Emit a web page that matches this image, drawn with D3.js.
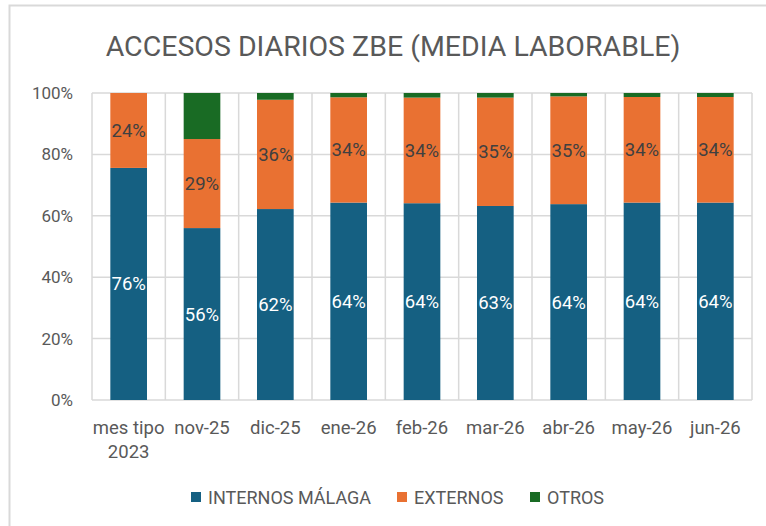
<!DOCTYPE html>
<html>
<head>
<meta charset="utf-8">
<script src="https://cdn.jsdelivr.net/npm/d3@7"></script>
<style>
  body { margin: 0; background: #fff; }
  svg text { font-family: Roboto, "Open Sans", sans-serif; }
</style>
</head>
<body>
<div id="chart"></div>
<script>
// data (shares of daily accesses)
var categories = ["mes tipo 2023", "nov-25", "dic-25", "ene-26", "feb-26", "mar-26", "abr-26", "may-26", "jun-26"];
var internos = [75.6, 56.0, 62.2, 64.3, 64.1, 63.2, 63.8, 64.3, 64.3];
var externos = [24.4, 29.0, 35.6, 34.3, 34.4, 35.3, 35.1, 34.4, 34.4];
var otros    = [0.0, 15.0, 2.2, 1.4, 1.5, 1.5, 1.1, 1.3, 1.3];
var seriesNames = ["INTERNOS MÁLAGA", "EXTERNOS", "OTROS"];
var yTicks = [0, 20, 40, 60, 80, 100];

var width = 766, height = 526;
var margin = {top: 93, right: 14, bottom: 126, left: 92};
var colors = ["#156082", "#E97132", "#196B24"];

var svg = d3.select("#chart").append("svg")
  .attr("width", width)
  .attr("height", height);

// outer chart frame (cut off at right and bottom)
svg.append("path")
  .attr("d", "M9.5," + height + "V5.5H" + width)
  .attr("fill", "none")
  .attr("stroke", "#d9d9d9")
  .attr("stroke-width", 2);

svg.append("text")
  .attr("x", 393)
  .attr("y", 56)
  .attr("text-anchor", "middle")
  .attr("font-size", "28.5px")
  .attr("fill", "#595959")
  .text("ACCESOS DIARIOS ZBE (MEDIA LABORABLE)");

var data = categories.map(function(c, i) {
  return {cat: c, internos: internos[i], externos: externos[i], otros: otros[i]};
});

var x = d3.scaleBand()
  .domain(categories)
  .range([margin.left, width - margin.right])
  .paddingInner(0.5)
  .paddingOuter(0.25);

var y = d3.scaleLinear()
  .domain([0, 100])
  .range([height - margin.bottom, margin.top]);

var plotRight = width - margin.right;

// horizontal gridlines
svg.append("g").selectAll("line")
  .data(yTicks)
  .enter().append("line")
  .attr("x1", margin.left).attr("x2", plotRight)
  .attr("y1", function(d) { return y(d); })
  .attr("y2", function(d) { return y(d); })
  .attr("stroke", "#d9d9d9")
  .attr("stroke-width", 1.5);

// vertical gridlines at category boundaries
var step = x.step();
var bounds = d3.range(categories.length + 1).map(function(i) { return margin.left + i * step; });
svg.append("g").selectAll("line")
  .data(bounds)
  .enter().append("line")
  .attr("x1", function(d) { return d; })
  .attr("x2", function(d) { return d; })
  .attr("y1", y(0)).attr("y2", y(100))
  .attr("stroke", "#d9d9d9")
  .attr("stroke-width", 1.5);

var stack = d3.stack().keys(["internos", "externos", "otros"]);
var layers = stack(data);

var groups = svg.append("g").selectAll("g")
  .data(layers)
  .enter().append("g")
  .attr("fill", function(d, i) { return colors[i]; });

groups.selectAll("rect")
  .data(function(d) { return d; })
  .enter().append("rect")
  .attr("x", function(d) { return x(d.data.cat); })
  .attr("width", x.bandwidth())
  .attr("y", function(d) { return y(d[1]); })
  .attr("height", function(d) { return y(d[0]) - y(d[1]); });

// data labels on the first two series
layers.slice(0, 2).forEach(function(layer, li) {
  svg.append("g").selectAll("text")
    .data(layer)
    .enter().append("text")
    .attr("x", function(d) { return x(d.data.cat) + x.bandwidth() / 2; })
    .attr("y", function(d) { return y((d[0] + d[1]) / 2) + 6.5; })
    .attr("text-anchor", "middle")
    .attr("font-size", "18.5px")
    .attr("fill", li === 0 ? "#ffffff" : "#404040")
    .text(function(d) { return Math.round(d[1] - d[0]) + "%"; });
});

// y axis labels
svg.append("g").selectAll("text")
  .data(yTicks)
  .enter().append("text")
  .attr("x", 73)
  .attr("y", function(d) { return y(d) + 6; })
  .attr("text-anchor", "end")
  .attr("font-size", "17px")
  .attr("fill", "#595959")
  .text(function(d) { return d + "%"; });

// x axis labels (wrap "mes tipo 2023")
var xl = svg.append("g").selectAll("text")
  .data(categories)
  .enter().append("text")
  .attr("x", function(d) { return x(d) + x.bandwidth() / 2; })
  .attr("y", 434)
  .attr("text-anchor", "middle")
  .attr("font-size", "18.5px")
  .attr("fill", "#595959");

xl.each(function(d) {
  var t = d3.select(this);
  var parts = d === "mes tipo 2023" ? ["mes tipo", "2023"] : [d];
  parts.forEach(function(p, i) {
    t.append("tspan")
      .attr("x", x(d) + x.bandwidth() / 2)
      .attr("dy", i === 0 ? 0 : 24)
      .text(p);
  });
});

// legend
var legendX = [191, 397, 530];
var leg = svg.append("g").selectAll("g")
  .data(seriesNames)
  .enter().append("g")
  .attr("transform", function(d, i) { return "translate(" + legendX[i] + ",492)"; });

leg.append("rect")
  .attr("width", 10).attr("height", 10)
  .attr("fill", function(d, i) { return colors[i]; });

leg.append("text")
  .attr("x", 17)
  .attr("y", 11.5)
  .attr("font-size", "18px")
  .attr("fill", "#595959")
  .text(function(d) { return d; });
</script>
</body>
</html>
